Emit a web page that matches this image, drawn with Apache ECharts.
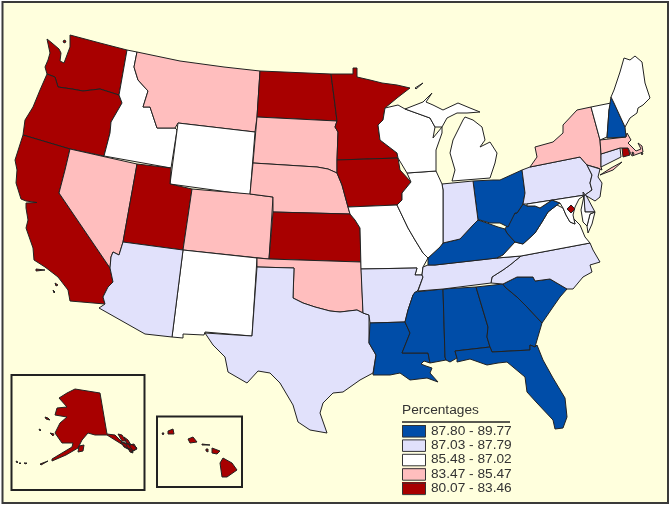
<!DOCTYPE html>
<html>
<head>
<meta charset="utf-8">
<style>
  html, body { margin: 0; padding: 0; background: #fff; }
  #chart { width: 672px; height: 508px; }
</style>
<script src="https://cdn.jsdelivr.net/npm/echarts@6/dist/echarts.min.js"></script>
</head>
<body>
<div id="chart"></div>
<script>
// legend classes, top to bottom
const classLabels = ["87.80 - 89.77", "87.03 - 87.79", "85.48 - 87.02", "83.47 - 85.47", "80.07 - 83.46"];
const classMin = [87.80, 87.03, 85.48, 83.47, 80.07];
const classMax = [89.77, 87.79, 87.02, 85.47, 83.46];
const classColors = ["#004da8", "#e1e1fb", "#ffffff", "#ffbebe", "#a80000"];

// values estimated from each state's legend class
const stateNames = ["WA","OR","CA","NV","ID","MT","WY","UT","CO","NM","AZ","ND","SD","NE","KS","OK","TX","MN","IA","MO","AR","LA","MS","AL","GA","FL","SC","NC","TN","KY","VA","WV","OH","IN","IL","WI","MI","PA","NY","NJ","DE","MD","DC","CT","RI","MA","VT","NH","ME","AK","HI"];
const stateValues = [82.5,82.5,82,84.5,86,84.5,86,82.5,84.5,86,87.4,82.5,84.5,84.5,82.5,84.5,87.4,82.5,82.5,86,87.4,88.5,88.5,88.5,88.5,88.5,88.5,87.4,87.4,88.5,86,88.5,88.5,87.4,86,86,86,87.4,84.5,87.4,87.4,86,81,87.4,82.5,84.5,86,88.5,86,82,82];

// state outlines (x, y in picture pixels)
const stateShapes = {
  WA: [[[47,39],[52,43],[59,49],[61,53],[60,61],[64,63],[67,55],[70,47],[70,35],[100,43],[127,50],[119,95],[100,89],[83,91],[72,89],[58,87],[55,77],[47,74],[45,67],[48,60],[50,53]],
       [[64,40],[66,41],[65,43],[63,42]]],
  OR: [[[47,74],[55,77],[58,87],[72,89],[83,91],[100,89],[119,95],[122,103],[111,122],[110,133],[104,156],[70,149],[23,135],[25,120],[33,107],[40,90]]],
  CA: [[[23,135],[70,149],[65,170],[59,193],[110,268],[113,282],[108,287],[103,297],[105,304],[70,301],[68,290],[58,277],[45,267],[34,260],[33,248],[26,228],[28,220],[26,208],[26,203],[37,202.5],[26,201],[21,199],[16,183],[17,170],[15,160]],
       [[36,269],[45,270],[45,271],[36,271]],[[55,283],[58,285],[56,286]],[[53,290],[55,292],[54,293]]],
  NV: [[[70,149],[137,164],[136,170],[123,242],[119,255],[113,252],[111,257],[110,268],[59,193],[65,170]]],
  ID: [[[127,50],[137,52],[134,67],[138,80],[148,91],[143,107],[150,107],[157,128],[175,128],[177,130],[171,168],[104,156],[110,133],[111,122],[122,103],[119,95]]],
  MT: [[[137,52],[180,61],[224,67],[260,71],[257,117],[255,132],[178,123],[175,128],[157,128],[150,107],[143,107],[148,91],[138,80],[134,67]]],
  WY: [[[178,123],[255,132],[250,195],[170,184]]],
  UT: [[[137,164],[171,168],[170,184],[192,189],[183,250],[123,242]]],
  CO: [[[192,189],[250,194],[273,197],[269,259],[183,250]]],
  NM: [[[183,250],[257,258],[252,336],[205,332],[204,335],[183,334],[183,338],[172,337]]],
  AZ: [[[123,242],[183,250],[172,337],[145,334],[99,308],[105,304],[103,297],[108,287],[113,282],[110,268],[111,257],[113,252],[119,255]]],
  ND: [[[260,71],[331,74],[334,97],[337,121],[257,117]]],
  SD: [[[257,117],[337,121],[335,127],[338,132],[337,160],[337,173],[328,169],[317,167],[253,163]]],
  NE: [[[253,163],[317,167],[328,169],[337,173],[342,185],[348,207],[350,214],[273,212],[273,197],[250,194]]],
  KS: [[[273,212],[350,214],[355,220],[360,228],[361,262],[269,259]]],
  OK: [[[257,258],[269,259],[361,262],[363,313],[357,310],[340,312],[330,311],[315,307],[303,303],[293,298],[294,268],[257,267]]],
  TX: [[[257,267],[294,268],[293,298],[303,303],[315,307],[330,311],[340,312],[357,310],[363,313],[369,315],[369,343],[376,355],[373,373],[360,380],[343,392],[333,393],[323,403],[320,413],[327,433],[310,430],[298,422],[293,405],[280,383],[270,373],[258,371],[247,383],[228,372],[225,357],[213,345],[205,333],[252,336]]],
  MN: [[[331,74],[353,74],[353,68],[357,68],[357,77],[370,80],[382,83],[397,85],[410,88],[397,98],[385,108],[383,120],[378,125],[380,140],[397,153],[398,158],[337,160],[338,132],[335,127],[337,121],[334,97]]],
  IA: [[[337,160],[398,158],[400,170],[411,182],[402,193],[402,200],[397,205],[348,207],[342,185],[337,173]]],
  MO: [[[350,214],[348,207],[397,205],[408,228],[415,240],[423,253],[428,258],[423,267],[422,275],[415,275],[417,268],[361,269],[360,228],[355,220]]],
  AR: [[[361,269],[417,268],[415,275],[422,275],[423,277],[418,290],[413,295],[408,310],[405,322],[370,323],[369,315],[363,313]]],
  LA: [[[370,323],[405,322],[410,333],[402,353],[428,353],[430,363],[424,361],[421,364],[426,366],[432,368],[430,373],[438,382],[427,378],[410,380],[400,373],[390,375],[373,375],[376,355],[369,343]]],
  MS: [[[415,292],[443,289],[445,357],[446,360],[430,363],[428,353],[402,353],[410,333],[405,322],[408,310],[413,295]]],
  AL: [[[443,289],[476,287],[488,327],[487,337],[490,347],[455,351],[457,358],[450,362],[446,360],[445,357]]],
  GA: [[[476,287],[503,284],[505,287],[517,297],[527,307],[542,323],[537,340],[535,347],[530,345],[530,350],[492,352],[490,347],[487,337],[488,327]]],
  FL: [[[455,351],[490,347],[492,352],[530,350],[530,345],[535,347],[537,345],[543,360],[553,378],[565,398],[567,417],[563,428],[555,429],[553,420],[537,403],[527,392],[525,377],[507,362],[498,363],[487,365],[470,359],[457,362],[457,358]]],
  SC: [[[503,284],[517,277],[533,277],[535,281],[550,279],[567,289],[560,297],[553,307],[542,323],[527,307],[517,297],[505,287]]],
  NC: [[[521,256],[590,243],[593,250],[600,262],[590,265],[592,272],[583,277],[573,289],[567,289],[550,279],[535,281],[533,277],[517,277],[503,284],[491,283],[492,277],[503,270],[510,265]]],
  TN: [[[423,267],[428,265],[435,265],[497,258],[521,256],[510,265],[503,270],[492,277],[491,283],[443,289],[418,291],[423,277],[422,275]]],
  KY: [[[428,258],[440,247],[443,243],[460,239],[473,225],[478,220],[487,223],[498,227],[505,229],[507,233],[515,242],[503,255],[497,258],[435,265],[428,265]]],
  VA: [[[497,258],[503,255],[515,242],[523,244],[535,233],[542,222],[548,212],[557,205],[563,208],[566,215],[570,222],[575,224],[573,218],[580,225],[585,237],[590,243],[521,256]],
       [[595,212],[592,224],[588,233],[587,226],[590,214]]],
  WV: [[[505,229],[510,220],[515,213],[517,213],[523,204],[527,206],[535,206],[540,208],[552,200],[560,203],[557,205],[548,212],[542,222],[535,233],[523,244],[515,242],[507,233]]],
  OH: [[[473,181],[493,180],[500,180],[522,170],[525,193],[523,204],[517,213],[515,213],[508,227],[500,223],[490,223],[480,220],[478,220]]],
  IN: [[[442,184],[473,181],[478,220],[473,225],[460,239],[443,243],[443,190]]],
  IL: [[[407,173],[436,171],[442,184],[443,190],[443,243],[440,247],[428,258],[423,253],[415,240],[408,228],[397,205],[402,200],[402,193],[411,182]]],
  WI: [[[385,108],[398,105],[405,109],[430,118],[435,127],[433,138],[442,127],[442,133],[436,150],[436,171],[407,173],[398,158],[397,153],[380,140],[378,125],[383,120]]],
  MI: [[[405,109],[423,102],[432,93],[426,102],[433,105],[443,110],[458,103],[470,108],[480,112],[467,113],[457,113],[447,118],[442,127],[435,127],[430,118]],
       [[465,117],[473,120],[482,127],[485,140],[480,147],[490,142],[497,153],[495,163],[490,178],[452,181],[455,170],[450,153],[453,140],[458,130],[463,120]],
       [[415,88],[423,83],[424,84],[416,89]]],
  PA: [[[522,170],[530,167],[580,157],[587,165],[592,175],[590,183],[592,190],[585,195],[527,204],[523,204],[525,193]]],
  NY: [[[530,167],[537,157],[535,147],[553,142],[563,133],[563,125],[577,110],[591,107],[600,140],[601,154],[601,167],[602,170],[598,168],[587,165],[580,157]],
       [[600,175],[611,168],[622,162],[613,170]]],
  NJ: [[[587,165],[600,169],[598,177],[602,183],[600,197],[595,201],[585,195],[592,190],[590,183],[592,175]]],
  DE: [[[583,192],[587,197],[595,212],[585,212]]],
  MD: [[[527,204],[585,195],[579,199],[575,207],[573,215],[575,224],[570,222],[566,215],[563,208],[560,203],[552,200],[540,208],[535,206],[527,206]],
       [[584,196],[585,212],[595,212],[590,214],[587,226],[583,222],[581,210]]],
  DC: [[[571,205],[575,209],[571,213],[567,209]]],
  CT: [[[601,154],[620,148],[621,157],[601,167]]],
  RI: [[[622,148],[628,148],[630,155],[623,157]]],
  MA: [[[600,140],[626,137],[627,133],[631,140],[628,143],[636,151],[641,149],[638,143],[642,146],[643,152],[632,156],[628,148],[620,148],[601,154]],
       [[632,152],[634,153],[633,155]],[[641,153],[643,153],[642,155]]],
  VT: [[[591,107],[611,103],[609,110],[607,137],[600,140]]],
  NH: [[[611,97],[614,103],[625,127],[626,137],[607,138],[609,110]]],
  ME: [[[611,97],[614,90],[620,72],[624,58],[630,60],[635,56],[642,62],[645,83],[650,98],[643,105],[638,108],[637,113],[630,118],[625,127],[614,103]]],
  AK: [[[75,389],[100,393],[107,434],[115,435],[122,442],[133,445],[137,448],[132,452],[123,445],[115,440],[107,435],[95,435],[88,433],[82,440],[78,448],[66,455],[52,461],[52,459],[62,453],[72,447],[73,443],[62,443],[55,433],[60,423],[67,417],[55,415],[57,408],[67,407],[59,398],[67,393]],
       [[79,446],[84,445],[83,451],[78,452]],[[45,417],[48,418],[50,420],[46,419]],[[39,429],[41,430],[40,431]],[[50,433],[54,434],[53,436]],
       [[118,434],[122,435],[126,441],[122,441]],[[124,437],[128,440],[131,445],[127,444]],[[121,442],[126,444],[128,449],[124,447]],[[129,445],[134,444],[137,449],[133,451]],[[128,448],[132,450],[133,453],[130,452]],
       [[40,464],[48,461],[48,462],[41,465]],[[24,463],[27,463],[26,464]],[[16,461],[18,462],[17,463]],[[19,463],[21,463],[20,464]]],
  HI: [[[223,458],[232,463],[237,470],[227,477],[222,477],[220,463]],
       [[212,448],[220,451],[217,454],[212,453]],[[188,439],[193,437],[197,442],[190,443]],[[168,431],[173,429],[174,434],[168,434]],
       [[202,444],[210,445],[209,446],[202,445]],[[206,449],[208,449],[208,452],[206,451]],[[162,433],[164,433],[163,435]]]
};

const usaGeo = {
  type: "FeatureCollection",
  features: stateNames.map((name) => ({
    type: "Feature",
    properties: { name },
    geometry: { type: "MultiPolygon", coordinates: stateShapes[name].map((ring) => [ring]) },
  })),
};

echarts.registerMap("usa", usaGeo);

const chart = echarts.init(document.getElementById("chart"));

chart.setOption({
  animation: false,
  backgroundColor: "#ffffff",
  textStyle: { fontFamily: "Liberation Sans" },
  visualMap: {
    type: "piecewise",
    orient: "vertical",
    inverse: false,
    align: "left",
    left: 402,
    top: 424.2,
    padding: 0,
    itemWidth: 24,
    itemHeight: 12,
    itemGap: 0.2,
    textGap: 5,
    itemSymbol: "rect",
    hoverLink: false,
    selectedMode: false,
    textStyle: { color: "#333", fontSize: 13.7, fontFamily: "Liberation Sans" },
    pieces: classLabels.map((label, i) => ({ min: classMin[i], max: classMax[i], label, color: classColors[i] })),
  },
  series: [
    {
      type: "map",
      map: "usa",
      silent: true,
      selectedMode: false,
      roam: false,
      projection: { project: (p) => p, unproject: (p) => p },
      boundingCoords: [[0, 0], [672, 508]],
      left: 0,
      top: 0,
      right: 0,
      bottom: 0,
      label: { show: false },
      emphasis: { disabled: true },
      itemStyle: { borderColor: "#222", borderWidth: 1 },
      data: stateNames.map((name, i) => ({ name, value: stateValues[i] })),
    },
  ],
  graphic: [
    { type: "rect", z: -1, shape: { x: 2.5, y: 2, width: 665.5, height: 501 }, style: { fill: "#ffffdd", stroke: "#3a3a3a", lineWidth: 2 } },
    { type: "rect", z: 10, shape: { x: 11.5, y: 375, width: 133, height: 115 }, style: { fill: "none", stroke: "#222", lineWidth: 2 } },
    { type: "rect", z: 10, shape: { x: 157, y: 416.5, width: 85, height: 70.5 }, style: { fill: "none", stroke: "#222", lineWidth: 2 } },
    { type: "text", z: 10, style: { x: 402, y: 403, text: "Percentages", fill: "#333", font: "13.7px Liberation Sans" } },
    { type: "line", z: 10, shape: { x1: 402, y1: 422, x2: 510, y2: 422 }, style: { stroke: "#222", lineWidth: 1.6 } },
    ...classLabels.map((label, i) => ({
      type: "rect",
      z: 10,
      shape: { x: 402.5, y: 425.5 + i * 14.4, width: 23, height: 11.5 },
      style: { fill: "none", stroke: "#333", lineWidth: 1 },
    })),
  ],
});
</script>
</body>
</html>
